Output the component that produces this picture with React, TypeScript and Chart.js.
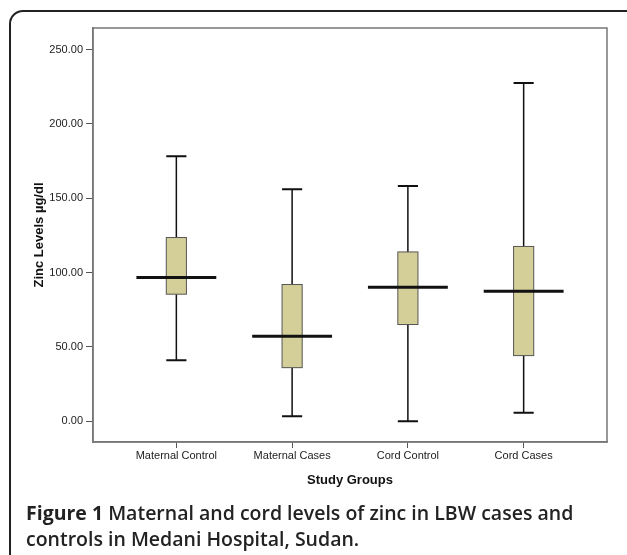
import React, { useEffect, useRef } from 'react';
import { Chart, registerables } from 'chart.js';

Chart.register(...registerables);

const categories = ['Maternal Control', 'Maternal Cases', 'Cord Control', 'Cord Cases'];
const minValues = [41, 3.4, 0, 5.8];
const q1Values = [85.5, 36.1, 65.1, 44.2];
const medianValues = [96.7, 57.2, 90.2, 87.5];
const q3Values = [123.6, 92, 113.9, 117.6];
const maxValues = [178.3, 156.1, 158.3, 227.5];
const yTickValues = [0, 50, 100, 150, 200, 250];

const BOX_HALF = 0.087;
const MEDIAN_HALF = 0.345;
const FONT = "'Liberation Sans', Arial, sans-serif";

const boxPlugin = {
  id: 'boxes',
  afterDatasetsDraw(chart: any) {
    const { ctx, chartArea } = chart;
    const x = chart.scales.x;
    const y = chart.scales.y;
    ctx.save();
    ctx.strokeStyle = '#777';
    ctx.lineWidth = 1.5;
    ctx.strokeRect(chartArea.left, chartArea.top, chartArea.width, chartArea.height);

    categories.forEach((_, i) => {
      const cx = x.getPixelForValue(i);
      const bl = x.getPixelForValue(i - BOX_HALF);
      const br = x.getPixelForValue(i + BOX_HALF);
      const ml = x.getPixelForValue(i - MEDIAN_HALF);
      const mr = x.getPixelForValue(i + MEDIAN_HALF);
      const pMin = y.getPixelForValue(minValues[i]);
      const pQ1 = y.getPixelForValue(q1Values[i]);
      const pMed = y.getPixelForValue(medianValues[i]);
      const pQ3 = y.getPixelForValue(q3Values[i]);
      const pMax = y.getPixelForValue(maxValues[i]);

      ctx.strokeStyle = '#111';
      ctx.lineWidth = 1.5;
      ctx.beginPath();
      ctx.moveTo(cx, pMax);
      ctx.lineTo(cx, pQ3);
      ctx.moveTo(cx, pQ1);
      ctx.lineTo(cx, pMin);
      ctx.stroke();
      ctx.lineWidth = 2;
      ctx.beginPath();
      ctx.moveTo(bl, pMax);
      ctx.lineTo(br, pMax);
      ctx.moveTo(bl, pMin);
      ctx.lineTo(br, pMin);
      ctx.stroke();
      ctx.fillStyle = '#d4cf98';
      ctx.fillRect(bl, pQ3, br - bl, pQ1 - pQ3);
      ctx.strokeStyle = '#555';
      ctx.lineWidth = 1;
      ctx.strokeRect(bl, pQ3, br - bl, pQ1 - pQ3);
      ctx.strokeStyle = '#111';
      ctx.lineWidth = 3;
      ctx.beginPath();
      ctx.moveTo(ml, pMed);
      ctx.lineTo(mr, pMed);
      ctx.stroke();
    });
    ctx.restore();
  },
};

export default function App() {
  const ref = useRef<HTMLCanvasElement | null>(null);

  useEffect(() => {
    if (!ref.current) return;
    const chart = new Chart(ref.current, {
      type: 'scatter',
      data: {
        datasets: [
          {
            data: medianValues.map((v, i) => ({ x: i, y: v })),
            pointRadius: 0,
            showLine: false,
          },
        ],
      },
      options: {
        responsive: false,
        animation: false,
        layout: { padding: { top: 28, right: 20, bottom: 65, left: 0 } },
        plugins: { legend: { display: false }, tooltip: { enabled: false } },
        scales: {
          x: {
            type: 'linear',
            min: -0.72,
            max: 3.72,
            afterBuildTicks: (s: any) => {
              s.ticks = categories.map((_, i) => ({ value: i }));
            },
            afterFit: (s: any) => {
              s.height = 48;
            },
            ticks: {
              callback: (v: any) => categories[Math.round(Number(v))],
              font: { family: FONT, size: 11 },
              color: '#222',
              padding: 1,
              maxRotation: 0,
              autoSkip: false,
            },
            grid: { drawOnChartArea: false, tickLength: 6, color: '#555', lineWidth: 1 },
            border: { color: '#777', width: 1.5 },
            title: {
              display: true,
              text: 'Study Groups',
              font: { family: FONT, size: 13, weight: 'bold' },
              color: '#111',
              padding: { top: 0, bottom: 2 },
            },
          },
          y: {
            type: 'linear',
            min: -13.9,
            max: 264.5,
            afterBuildTicks: (s: any) => {
              s.ticks = yTickValues.map((v) => ({ value: v }));
            },
            afterFit: (s: any) => {
              s.width = 93;
            },
            ticks: {
              callback: (v: any) => Number(v).toFixed(2),
              font: { family: FONT, size: 11 },
              color: '#222',
              padding: 3,
            },
            grid: { drawOnChartArea: false, tickLength: 7, color: '#555', lineWidth: 1 },
            border: { color: '#777', width: 1.5 },
            title: {
              display: true,
              text: 'Zinc Levels µg/dl',
              font: { family: FONT, size: 13, weight: 'bold' },
              color: '#111',
              padding: { top: 32, bottom: 0 },
            },
          },
        },
      },
      plugins: [boxPlugin],
    } as any);
    return () => chart.destroy();
  }, []);

  return (
    <div
      style={{
        position: 'fixed',
        left: 0,
        top: 0,
        width: 627,
        height: 555,
        overflow: 'hidden',
        background: '#fff',
      }}
    >
      <div
        style={{
          position: 'absolute',
          left: 9,
          top: 10,
          width: 621,
          height: 600,
          boxSizing: 'border-box',
          border: '2px solid #222',
          borderTopLeftRadius: 14,
        }}
      />
      <canvas
        ref={ref}
        width={627}
        height={555}
        style={{ position: 'absolute', left: 0, top: 0, display: 'block' }}
      />
      <div
        style={{
          position: 'absolute',
          left: 26,
          top: 500,
          width: 600,
          fontFamily: "'Open Sans', sans-serif",
          fontSize: 19.5,
          lineHeight: '26px',
          fontWeight: 600,
          color: '#222',
          whiteSpace: 'nowrap',
        }}
      >
        <div>
          <span style={{ fontWeight: 700 }}>Figure 1</span> Maternal and cord levels of zinc in LBW cases and
        </div>
        <div>controls in Medani Hospital, Sudan.</div>
      </div>
    </div>
  );
}
